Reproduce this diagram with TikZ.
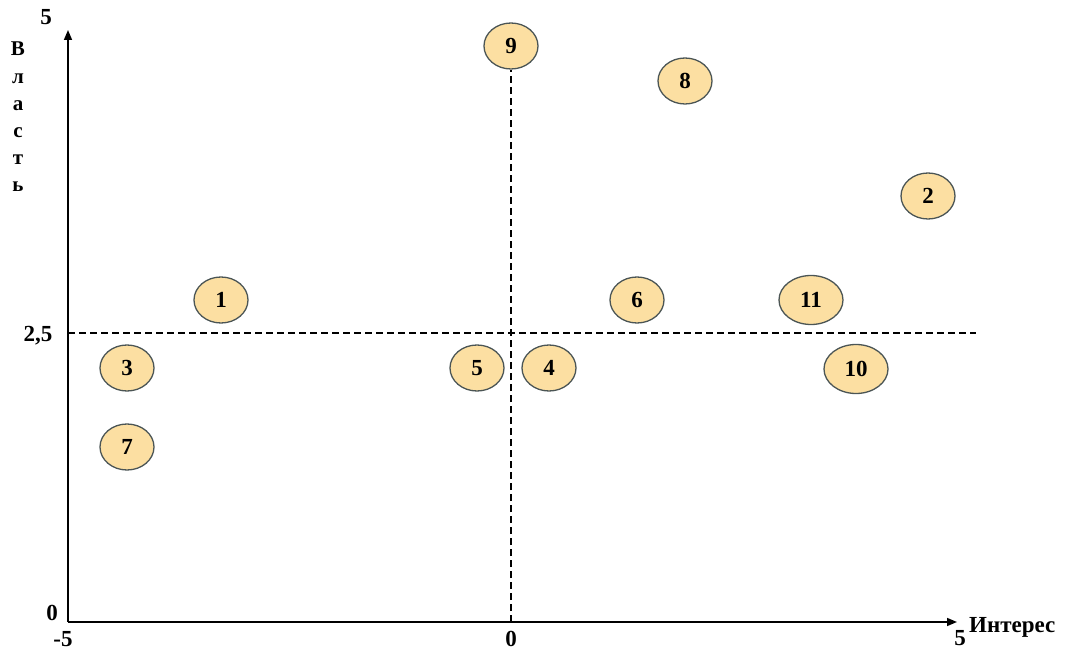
\documentclass[tikz,border=0pt]{standalone}
\usepackage{fontspec}
\setmainfont{Liberation Serif}
\usetikzlibrary{positioning, arrows.meta, shapes.geometric}

\definecolor{pointfill}{RGB}{252,223,162}
\definecolor{pointline}{RGB}{75,85,85}

\begin{document}
\begin{tikzpicture}[
    x=1pt, y=-1pt,
    font=\bfseries\fontsize{23}{25}\selectfont,
    pt/.style={ellipse, draw=pointline, line width=1.3pt, fill=pointfill,
               minimum width=54pt, minimum height=46pt, inner sep=0pt},
    ptwide/.style={pt, minimum width=64pt, minimum height=49pt},
    axis/.style={line width=1.5pt, -{Triangle[length=10pt, width=8pt]}},
    guide/.style={line width=1.2pt, dash pattern=on 7pt off 4pt},
    lbl/.style={inner sep=0pt},
  ]
  \useasboundingbox (0,0) rectangle (1066,652);

  % ---- axes
  \coordinate (orig) at (68,622);
  \coordinate (ytop) at (68,30);
  \coordinate (xend) at (957,622);
  \draw[axis] (orig) -- (ytop);
  \draw[axis] (orig) -- (xend);

  % ---- quadrant guides
  \coordinate (vbot) at (511,622);
  \coordinate (hleft) at (68,333);
  \coordinate (hright) at (976,333);

  % ---- stakeholders
  \node[pt] (p9) at (511,46) {9};
  \node[pt] (p8) at (685,81) {8};
  \node[pt] (p2) at (928,196) {2};
  \node[pt] (p1) at (221,300) {1};
  \node[pt] (p6) at (637,300) {6};
  \node[ptwide] (p11) at (811,300) {11};
  \node[pt] (p3) at (127,368) {3};
  \node[pt] (p5) at (477,368) {5};
  \node[pt] (p4) at (549,368) {4};
  \node[ptwide] (p10) at (856,369) {10};
  \node[pt] (p7) at (127,447) {7};

  \draw[guide] (vbot) -- (p9.south);
  \draw[guide] (hleft) -- (hright);

  % ---- tick labels
  \node[lbl] (ymax) at (46,17) {5};
  \node[lbl] (ymid) at (38,336) {2,5};
  \node[lbl] (ymin) at (52,613) {0};
  \node[lbl] (xmin) at (63,639) {-5};
  \node[lbl] (xmid) at (511,639) {0};
  \node[lbl] (xmax) at (960,638) {5};

  % ---- axis titles
  \node[lbl, anchor=west] (xname) at (969,627) {Интерес};
  \node[lbl, align=center, font=\bfseries\fontsize{21}{27.2}\selectfont]
    (yname) at (18,117) {В\\л\\а\\с\\т\\ь};
\end{tikzpicture}
\end{document}
